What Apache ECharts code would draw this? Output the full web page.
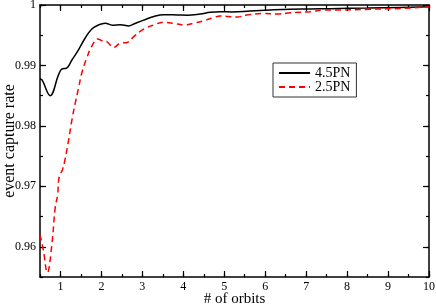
<!DOCTYPE html>
<html>
<head>
<meta charset="utf-8">
<script src="https://cdn.jsdelivr.net/npm/echarts@6/dist/echarts.min.js"></script>
<style>html,body{margin:0;padding:0;background:#fff;}#c{width:436px;height:305px;}</style>
</head>
<body>
<div id="c"></div>
<script>
// 4.5PN (solid black)
var pn45X = [0.5, 0.55, 0.75, 0.95, 1.03, 1.15, 1.28, 1.44, 1.60, 1.76, 1.93, 2.09, 2.27, 2.46, 2.67, 2.79, 3.03, 3.28, 3.52, 3.85, 4.09, 4.41, 4.66, 4.90, 5.2, 5.63, 6.12, 6.61, 7.10, 7.58, 8.5, 9.3, 10];
var pn45Y = [0.9878, 0.9876, 0.9850, 0.9884, 0.9894, 0.98955, 0.9909, 0.99257, 0.9945, 0.9960, 0.9967, 0.9970, 0.99665, 0.99675, 0.99653, 0.99686, 0.9975, 0.9981, 0.9984, 0.99835, 0.9983, 0.99851, 0.9988, 0.9989, 0.99885, 0.9990, 0.99917, 0.9993, 0.99934, 0.9994, 0.9995, 0.9996, 0.9997];
// 2.5PN (dashed red)
var pn25X = [0.5, 0.58, 0.68, 0.79, 0.87, 0.93, 0.97, 1.05, 1.11, 1.20, 1.28, 1.36, 1.44, 1.52, 1.64, 1.76, 1.91, 2.01, 2.13, 2.30, 2.46, 2.63, 2.79, 3.03, 3.28, 3.52, 3.76, 4.01, 4.25, 4.50, 4.74, 4.90, 5.31, 5.55, 5.96, 6.29, 6.61, 7.10, 7.42, 7.83, 8.56, 9.37, 10];
var pn25Y = [0.9620, 0.9595, 0.9557, 0.9604, 0.9664, 0.9686, 0.97165, 0.97276, 0.97441, 0.97771, 0.9810, 0.98377, 0.9862, 0.98872, 0.9912, 0.99312, 0.99439, 0.9941, 0.99394, 0.9930, 0.99368, 0.9938, 0.99477, 0.9960, 0.9967, 0.99714, 0.99698, 0.9967, 0.99698, 0.9974, 0.9979, 0.9982, 0.9980, 0.99835, 0.9986, 0.9985, 0.9987, 0.9989, 0.99915, 0.99917, 0.9993, 0.99945, 0.9997];

var xMajorTicks = [1, 2, 3, 4, 5, 6, 7, 8, 9, 10];
var yMajorTicks = [0.96, 0.97, 0.98, 0.99, 1];
var seriesNames = ['4.5PN', '2.5PN'];

function pairs(xs, ys) { return xs.map(function (x, i) { return [x, ys[i]]; }); }

var FONT = '"Liberation Serif", "DejaVu Serif", serif';
var lineStyleAxis = { color: '#000', width: 1.5 };

function xAx(pos, main, major) {
  return {
    type: 'value', position: pos, min: 0.5, max: 10, interval: 0.5,
    name: main ? '# of orbits' : '', nameLocation: 'middle', nameGap: 15, nameMoveOverlap: false,
    nameTextStyle: { fontFamily: FONT, fontSize: 15, color: '#000' },
    axisLine: { show: !major, onZero: false, lineStyle: lineStyleAxis },
    axisTick: major ? { show: true, inside: true, length: 6, customValues: xMajorTicks, lineStyle: { color: '#000', width: 1.2 } }
                    : { show: true, inside: true, length: 3, lineStyle: { color: '#000', width: 1.2 } },
    axisLabel: main ? { show: true, margin: 4, fontFamily: FONT, fontSize: 12, color: '#000', showMinLabel: true, showMaxLabel: true,
      formatter: function (v) { return Math.abs(v - Math.round(v)) < 1e-6 ? String(Math.round(v)) : ''; } } : { show: false },
    splitLine: { show: false }
  };
}
function yAx(pos, main, major) {
  return {
    type: 'value', position: pos, min: 0.955, max: 1, interval: 0.005,
    name: main ? 'event capture rate' : '', nameLocation: 'middle', nameGap: 22, nameMoveOverlap: false,
    nameTextStyle: { fontFamily: FONT, fontSize: 16, color: '#000' },
    axisLine: { show: !major, onZero: false, lineStyle: lineStyleAxis },
    axisTick: major ? { show: true, inside: true, length: 6, customValues: yMajorTicks, lineStyle: { color: '#000', width: 1.2 } }
                    : { show: true, inside: true, length: 3, lineStyle: { color: '#000', width: 1.2 } },
    axisLabel: main ? { show: true, margin: 4, fontFamily: FONT, fontSize: 12, color: '#000', showMinLabel: true, showMaxLabel: true,
      formatter: function (v) {
        var k = Math.round(v * 1000);
        if (k % 10 !== 0) return '';
        return k === 1000 ? '1' : (k / 1000).toFixed(2);
      } } : { show: false },
    splitLine: { show: false }
  };
}

var chart = echarts.init(document.getElementById('c'), null, { renderer: 'canvas' });
chart.setOption({
  animation: false,
  backgroundColor: '#fff',
  grid: { left: 40, right: 7, top: 5, bottom: 28, containLabel: false, outerBoundsMode: 'none' },
  xAxis: [xAx('bottom', true, false), xAx('bottom', false, true), xAx('top', false, false), xAx('top', false, true)],
  yAxis: [yAx('left', true, false), yAx('left', false, true), yAx('right', false, false), yAx('right', false, true)],
  legend: {
    data: seriesNames, orient: 'vertical', left: 273, top: 63,
    borderColor: '#333', borderWidth: 1, padding: [3, 6, 3, 5],
    itemWidth: 31, itemHeight: 10, itemGap: 0, itemTextGap: 8,
    itemStyle: { opacity: 0 },
    textStyle: { fontFamily: FONT, fontSize: 14, color: '#000', lineHeight: 12 }
  },
  series: [
    { name: seriesNames[0], type: 'line', xAxisIndex: 0, yAxisIndex: 0, data: pairs(pn45X, pn45Y),
      smooth: 0.4, symbol: 'none', showSymbol: false, lineStyle: { color: '#000', width: 1.5 }, itemStyle: { color: '#000' } },
    { name: seriesNames[1], type: 'line', xAxisIndex: 0, yAxisIndex: 0, data: pairs(pn25X, pn25Y),
      smooth: 0.4, symbol: 'none', showSymbol: false, lineStyle: { color: '#ff0000', width: 1.5, type: [6, 4] }, itemStyle: { color: '#ff0000' } }
  ]
});
</script>
</body>
</html>
